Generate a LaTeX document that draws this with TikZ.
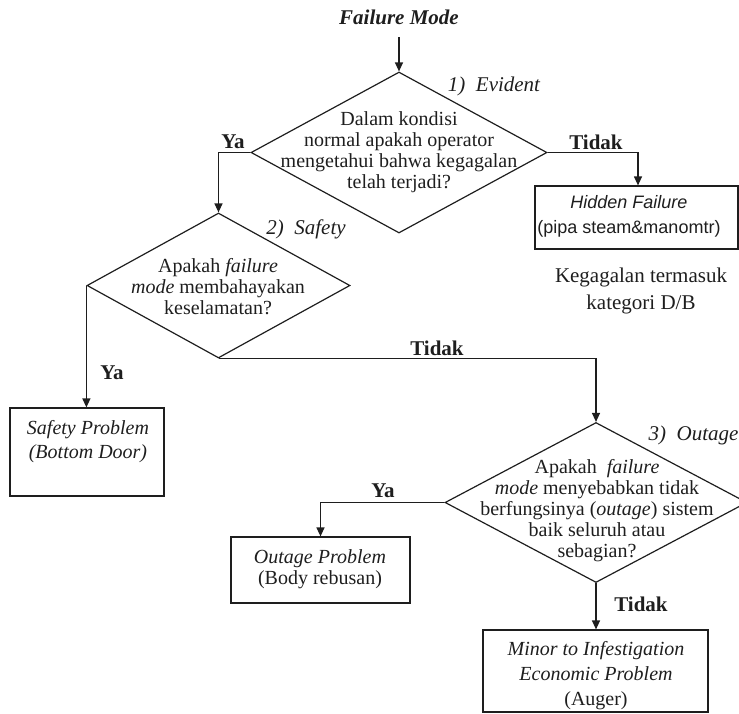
\documentclass[tikz,border=0pt]{standalone}
\usepackage{fontspec}
\setmainfont{Liberation Serif}
\newfontfamily\sansf{Liberation Sans}
\usetikzlibrary{shapes.geometric,arrows.meta}
\definecolor{ink}{HTML}{1E1E1E}
\begin{document}
\begin{tikzpicture}[x=1pt,y=-1pt,
  line width=1.2pt, draw=ink, text=ink,
  dia/.style={diamond,draw=ink,inner sep=0pt,line width=1.2pt},
  box/.style={rectangle,draw=ink,inner sep=0pt,line width=1.2pt},
  txt/.style={align=center,inner sep=0pt,font=\fontsize{20}{21}\selectfont},
  lbl/.style={inner sep=0pt,font=\fontsize{21}{23}\selectfont\bfseries},
  tag/.style={inner sep=0pt,font=\fontsize{21}{23}\selectfont\itshape},
  arr/.style={draw=ink,-{Triangle[length=9pt,width=8pt]}},
  ]
\useasboundingbox (0,0) rectangle (739,713);

% title
\node[inner sep=0pt,font=\fontsize{21}{23}\selectfont\bfseries\itshape] (fm) at (399,17) {Failure Mode};

% diamonds
\node[dia,minimum width=296pt,minimum height=161pt] (d1) at (399,152.5) {};
\node[dia,minimum width=263pt,minimum height=145pt] (d2) at (218.5,285.5) {};
\node[dia,minimum width=302pt,minimum height=160pt] (d3) at (596,502.5) {};

% diamond texts
\node[txt] (t1) at (399,152) {Dalam kondisi\\normal apakah operator\\mengetahui bahwa kegagalan\\telah terjadi?};
\node[txt] (t2) at (218,287) {Apakah \textit{failure}\\\textit{mode} membahayakan\\keselamatan?};
\node[txt] (t3) at (597,511) {Apakah \ \textit{failure}\\\textit{mode} menyebabkan tidak\\berfungsinya (\textit{outage}) sistem\\baik seluruh atau\\sebagian?};

% step tags
\node[tag] (g1) at (494,86) {1)\ \ Evident};
\node[tag] (g2) at (306,229) {2)\ \ Safety};
\node[tag,anchor=west] (g3) at (648,435) {3)\ \ Outage};

% boxes
\node[box,minimum width=203pt,minimum height=63pt] (hid) at (636.5,217.5) {};
\node[box,minimum width=154pt,minimum height=88pt] (saf) at (87,452) {};
\node[box,minimum width=179pt,minimum height=66pt] (out) at (320.5,570) {};
\node[box,minimum width=225pt,minimum height=82pt] (min) at (595.5,671) {};

% box texts
\node[align=center,inner sep=0pt,font=\fontsize{18}{25}\selectfont\sansf] (hidt) at (629,216.5) {\textit{Hidden Failure}\\(pipa steam\&manomtr)};
\node[txt,font=\fontsize{20}{24}\selectfont\itshape] (saft) at (88,442) {Safety Problem\\(Bottom Door)};
\node[txt,font=\fontsize{20}{21}\selectfont] (outt) at (320,569) {\textit{Outage Problem}\\(Body rebusan)};
\node[txt,font=\fontsize{20}{25}\selectfont] (mint) at (596,676) {\textit{Minor to Infestigation}\\\textit{Economic Problem}\\(Auger)};

% note
\node[align=center,inner sep=0pt,font=\fontsize{21}{27}\selectfont] (note) at (641,291) {Kegagalan termasuk\\kategori D/B};

% connectors
\coordinate (fmb) at (399,37);
\draw[arr] (fmb) -- (d1.north);
\draw[arr] (d1.west) -| (d2.north);
\draw[arr] (d1.east) -| (hid.north -| 638,0);
\draw[arr] (d2.west) -- (saf.north -| d2.west);
\draw[arr] (d2.south) -| (d3.north);
\draw[arr] (d3.west) -| (out.north);
\draw[arr] (d3.south) -- (min.north -| d3.south);

% branch labels
\node[lbl] (ya1) at (233,142) {Ya};
\node[lbl] (no1) at (596,142) {Tidak};
\node[lbl] (ya2) at (112,373) {Ya};
\node[lbl] (no2) at (437,348) {Tidak};
\node[lbl] (ya3) at (383,491) {Ya};
\node[lbl] (no3) at (641,604) {Tidak};
\end{tikzpicture}
\end{document}
